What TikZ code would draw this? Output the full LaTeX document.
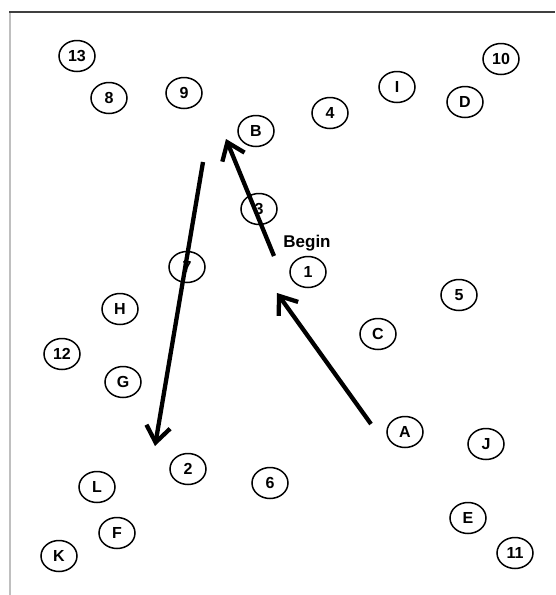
\documentclass[tikz,border=0pt]{standalone}
\usepackage{fontspec}
\setmainfont{Liberation Sans}
\usetikzlibrary{arrows.meta,shapes.geometric}
\begin{document}
\begin{tikzpicture}[x=1pt,y=-1pt,
  spot/.style={ellipse,draw,line width=1.5pt,minimum width=36pt,minimum height=31pt,
    inner sep=0pt,font=\fontsize{16}{16}\selectfont\bfseries},
  move/.style={line width=4.3pt,-{Straight Barb[length=16pt,width=24pt,line width=4.3pt]}}]
\useasboundingbox (0,0) rectangle (555,595);
% frame edges
\draw[line width=2.2pt,color=black!75] (9,12) -- (555,12);
\draw[line width=2pt,color=black!25] (10,13) -- (10,595);
% numbered spots
\node[spot] (n13) at (77,56) {13};
\node[spot] (n8) at (109,98) {8};
\node[spot] (n9) at (184,93) {9};
\node[spot] (n4) at (330,113) {4};
\node[spot] (n10) at (501,59) {10};
\node[spot] (n3) at (259,209) {3};
\node[spot] (n1) at (308,272) {1};
\node[spot] (n7) at (187,267) {7};
\node[spot] (n5) at (459,295) {5};
\node[spot] (n12) at (62,354) {12};
\node[spot] (n2) at (188,469) {2};
\node[spot] (n6) at (270,483) {6};
\node[spot] (n11) at (515,553) {11};
% lettered spots
\node[spot] (nB) at (256,131) {B};
\node[spot] (nI) at (397,87) {I};
\node[spot] (nD) at (465,102) {D};
\node[spot] (nH) at (120,309) {H};
\node[spot] (nG) at (123,382) {G};
\node[spot] (nC) at (378,334) {C};
\node[spot] (nA) at (405,432) {A};
\node[spot] (nJ) at (486,444) {J};
\node[spot] (nL) at (97,487) {L};
\node[spot] (nF) at (117,533) {F};
\node[spot] (nK) at (59,556) {K};
\node[spot] (nE) at (468,518) {E};
% start label
\node[font=\fontsize{17}{17}\selectfont\bfseries] (begin) at (307,243) {Begin};
% path of moves
\coordinate (a1s) at (371,424);
\coordinate (a1e) at (277,293);
\coordinate (a2s) at (274,256);
\coordinate (a2e) at (226,139);
\coordinate (a3s) at (203,162);
\coordinate (a3e) at (155,446);
\draw[move] (a1s) -- (a1e);
\draw[move] (a2s) -- (a2e);
\draw[move] (a3s) -- (a3e);
\end{tikzpicture}
\end{document}
